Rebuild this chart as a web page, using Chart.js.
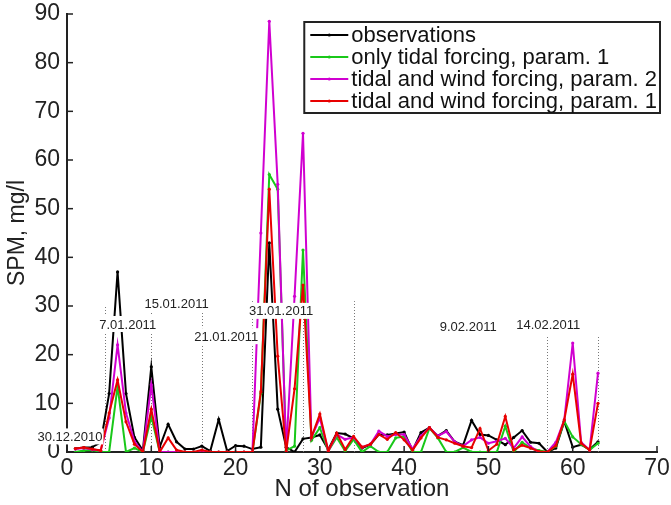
<!DOCTYPE html>
<html>
<head>
<meta charset="utf-8">
<script src="https://cdn.jsdelivr.net/npm/chart.js@4.4.1/dist/chart.umd.min.js"></script>
<style>
  html, body { margin: 0; padding: 0; background: #fff; }
  #wrap { width: 671px; height: 505px; }
</style>
</head>
<body>
<div id="wrap"><canvas id="spmChart" width="671" height="505"></canvas></div>
<script>
// N of observation
const obsIndex = [1, 2, 3, 4, 5, 6, 7, 8, 9, 10, 11, 12, 13, 14, 15, 16, 17, 18, 19, 20, 21,
  22, 23, 24, 25, 26, 27, 28, 29, 30, 31, 32, 33, 34, 35, 36, 37, 38, 39, 40, 41, 42,
  43, 44, 45, 46, 47, 48, 49, 50, 51, 52, 53, 54, 55, 56, 57, 58, 59, 60, 61, 62, 63];

// SPM, mg/l
const observations = [0.7, 0.9, 1, 2, 12, 37, 12, 3, 0.3, 17.5, 1, 5.7, 2.1, 0.6, 0.6, 1.2, 0.2, 6.7, 0.2, 1.3, 1.2,
  0.6, 1, 43, 8.8, 1, 0, 2.7, 3, 3.5, 0.5, 3.9, 3.7, 2.8, 0.8, 1.5, 3.6, 3.5, 3.8, 4.1, 0.3, 4,
  5, 3.3, 4.4, 2.1, 1.4, 6.5, 3.6, 3.4, 2.5, 1.5, 3, 4.4, 2, 1.8, 0, 0.8, 6.3, 1, 1.5, 0.5, 2.1];

const tidalOnlyP1 = [0, 0.3, 0.4, 0, 0, 13.5, 0, 0.8, 0, 7.3, 0, 0, 0, 0, 0, 0, 0, 0, 0, 0, 0,
  0, 12, 57, 54, 0.3, 1.2, 41.5, 2.4, 5, 0.2, 3, 0.2, 2.6, 0, 1.2, 0, 0, 2.9, 3.2, 0, 0,
  4.9, 2.9, 0, 0, 0.9, 0, 0, 0, 0, 5.3, 0, 2, 0.8, 0.3, 0, 1.2, 6.3, 3.1, 1.6, 0.4, 1.8];

const tidalWindP2 = [0.6, 0.8, 0.5, 0.3, 7, 22, 8, 2.2, 0, 13.8, 0, 0, 0, 0, 0, 0, 0, 0, 0, 0, 0,
  0, 45, 88.5, 55, 0, 32, 65.5, 3, 7, 0.2, 3.6, 2.6, 3, 1, 1.6, 4.3, 3.2, 3.6, 3.6, 0.6, 3.3,
  5, 3.3, 4.2, 2.1, 1.2, 2.5, 3, 1.8, 2.2, 2.8, 0.8, 3.1, 1.1, 0, 0, 2, 6.6, 22.4, 2, 0.4, 16.2];

const tidalWindP1 = [0.7, 0.9, 0.6, 0.3, 8, 14.8, 6.2, 1.6, 0, 8.8, 0, 2.9, 0.4, 0, 0, 0.4, 0, 0, 0, 0, 0,
  0, 12.4, 54, 19.7, 0, 13, 34.3, 3, 7.8, 0.2, 3.9, 0.5, 3.2, 1, 1.6, 3.6, 2.6, 4, 2.5, 0.4, 2.9,
  5, 3, 2.5, 1.8, 1.2, 0.9, 4.8, 0.3, 1.6, 7.3, 0.4, 1.4, 0.8, 0.1, 0, 1.3, 6.6, 16, 1.8, 0.4, 10];

// dotted event markers and their dates
const eventX = [4.5, 10, 16, 22, 28, 34, 57, 63];
const eventTop = [30, 30, 29.5, 31, 31, 31, 24, 24];
const dateLabels = ['30.12.2010', '7.01.2011', '15.01.2011', '21.01.2011', '31.01.2011', '9.02.2011', '14.02.2011'];
const dateLabelX = [0.35, 7.2, 13, 18.9, 25.4, 47.6, 57.1];
const dateLabelY = [3.2, 26.3, 30.6, 23.8, 29, 25.9, 26.3];

const xTicks = [0, 10, 20, 30, 40, 50, 60, 70];
const yTicks = [0, 10, 20, 30, 40, 50, 60, 70, 80, 90];

const FONT = "'Liberation Sans', Arial, sans-serif";

function toPoints(values) {
  return values.map((v, i) => ({ x: obsIndex[i], y: v }));
}

function series(label, values, color, order) {
  return {
    label: label,
    data: toPoints(values),
    borderColor: color,
    backgroundColor: color,
    borderWidth: 2,
    pointRadius: 1.6,
    pointBorderWidth: 0,
    pointBackgroundColor: color,
    tension: 0,
    order: order,
  };
}

const decorations = {
  id: 'decorations',
  beforeDatasetsDraw(chart) {
    const { ctx, scales: { x, y } } = chart;
    ctx.save();
    ctx.strokeStyle = '#777';
    ctx.lineWidth = 1;
    ctx.setLineDash([1, 2]);
    eventX.forEach((ex, i) => {
      const px = Math.round(x.getPixelForValue(ex)) + 0.5;
      ctx.beginPath();
      ctx.moveTo(px, y.getPixelForValue(0));
      ctx.lineTo(px, y.getPixelForValue(eventTop[i]));
      ctx.stroke();
    });
    ctx.restore();
  },
  afterDatasetsDraw(chart) {
    const { ctx, chartArea, scales: { x, y } } = chart;
    ctx.save();

    // date labels on white
    ctx.font = '13px ' + FONT;
    ctx.textAlign = 'center';
    ctx.textBaseline = 'middle';
    dateLabels.forEach((txt, i) => {
      const cx = x.getPixelForValue(dateLabelX[i]);
      const cy = y.getPixelForValue(dateLabelY[i]);
      const w = ctx.measureText(txt).width;
      ctx.fillStyle = '#fff';
      ctx.fillRect(cx - w / 2 - 1, cy - 8, w + 2, 16);
      ctx.fillStyle = '#222';
      ctx.fillText(txt, cx, cy + 1);
    });

    // inward tick marks
    ctx.strokeStyle = '#222';
    ctx.lineWidth = 1.5;
    xTicks.forEach(v => {
      const px = x.getPixelForValue(v);
      ctx.beginPath();
      ctx.moveTo(px, chartArea.bottom);
      ctx.lineTo(px, chartArea.bottom - 6);
      ctx.stroke();
    });
    yTicks.forEach(v => {
      const py = y.getPixelForValue(v);
      ctx.beginPath();
      ctx.moveTo(chartArea.left, py);
      ctx.lineTo(chartArea.left + 6, py);
      ctx.stroke();
    });

    // boxed legend, top right
    const sets = chart.data.datasets;
    ctx.font = '22px ' + FONT;
    const textW = Math.max(...sets.map(d => ctx.measureText(d.label).width));
    const boxRight = chartArea.right + 3;
    const boxTop = chartArea.top + 8;
    const rowH = 22;
    const boxW = 47 + textW + 3;
    const boxLeft = boxRight - boxW;
    const boxH = rowH * sets.length + 3;
    ctx.fillStyle = '#fff';
    ctx.fillRect(boxLeft, boxTop, boxW, boxH);
    ctx.strokeStyle = '#222';
    ctx.lineWidth = 2;
    ctx.strokeRect(boxLeft, boxTop, boxW, boxH);
    ctx.textAlign = 'left';
    ctx.textBaseline = 'middle';
    sets.forEach((d, i) => {
      const ry = boxTop + 13 + i * rowH;
      ctx.strokeStyle = d.borderColor;
      ctx.lineWidth = 2;
      ctx.beginPath();
      ctx.moveTo(boxLeft + 6, ry);
      ctx.lineTo(boxLeft + 44, ry);
      ctx.stroke();
      ctx.fillStyle = d.borderColor;
      ctx.beginPath();
      ctx.arc(boxLeft + 25, ry, 1.6, 0, Math.PI * 2);
      ctx.fill();
      ctx.fillStyle = '#111';
      ctx.fillText(d.label, boxLeft + 47, ry + 1);
    });
    ctx.restore();
  },
};

new Chart(document.getElementById('spmChart'), {
  type: 'line',
  data: {
    datasets: [
      series('observations', observations, '#000000', 4),
      series('only tidal forcing, param. 1', tidalOnlyP1, '#19c819', 3),
      series('tidal and wind forcing, param. 2', tidalWindP2, '#d000d0', 2),
      series('tidal and wind forcing, param. 1', tidalWindP1, '#e80000', 1),
    ],
  },
  options: {
    responsive: false,
    animation: false,
    devicePixelRatio: 1,
    layout: { padding: { top: 14, right: 14, left: 0, bottom: 0 } },
    plugins: {
      legend: { display: false },
      tooltip: { enabled: false },
    },
    scales: {
      x: {
        type: 'linear',
        min: 0,
        max: 70,
        afterFit: s => { s.height = 53; s.paddingLeft = 0; s.paddingRight = 0; },
        afterBuildTicks: s => { s.ticks = xTicks.map(v => ({ value: v })); },
        grid: { display: false, drawTicks: false },
        border: { display: true, color: '#222', width: 2 },
        ticks: { color: '#222', padding: 3, font: { family: FONT, size: 23 } },
        title: {
          display: true,
          text: 'N of observation',
          color: '#222',
          font: { family: FONT, size: 24 },
          padding: { top: 0, bottom: 1 },
        },
      },
      y: {
        min: 0,
        max: 90,
        afterFit: s => { s.width = 67; s.paddingTop = 0; s.paddingBottom = 0; },
        afterBuildTicks: s => { s.ticks = yTicks.map(v => ({ value: v })); },
        grid: { display: false, drawTicks: false },
        border: { display: true, color: '#222', width: 2 },
        ticks: { color: '#222', padding: 7, font: { family: FONT, size: 23 } },
        title: {
          display: true,
          text: 'SPM, mg/l',
          color: '#222',
          font: { family: FONT, size: 23 },
          padding: { top: 4, bottom: 0 },
        },
      },
    },
  },
  plugins: [decorations],
});
</script>
</body>
</html>
